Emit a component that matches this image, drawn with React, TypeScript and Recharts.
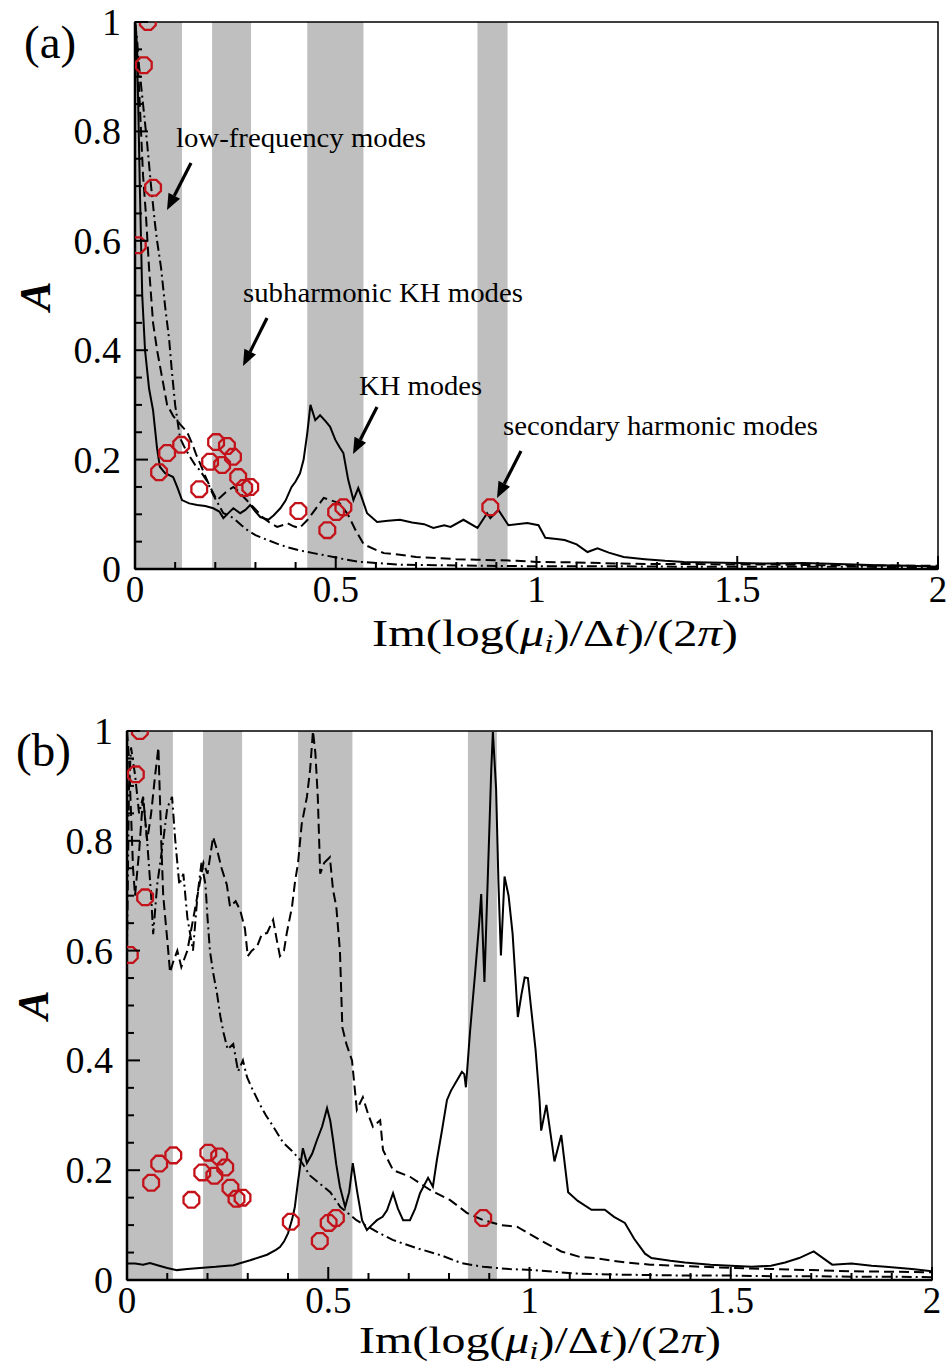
import React from 'react'
import { ComposedChart, Line, Scatter, XAxis, YAxis, ReferenceArea } from 'recharts'

const SERIF = '"Liberation Serif", "Times New Roman", serif'

const xTicks = [0, 0.1, 0.2, 0.3, 0.4, 0.5, 0.6, 0.7, 0.8, 0.9, 1, 1.1, 1.2, 1.3, 1.4, 1.5, 1.6, 1.7, 1.8, 1.9, 2]
const yTicks = [0, 0.05, 0.1, 0.15, 0.2, 0.25, 0.3, 0.35, 0.4, 0.45, 0.5, 0.55, 0.6, 0.65, 0.7, 0.75, 0.8, 0.85, 0.9, 0.95, 1]

// shaded frequency bands [from, to]
const bandsA = [[0, 0.117], [0.192, 0.289], [0.429, 0.569], [0.853, 0.928]]
const bandsB = [[0, 0.114], [0.189, 0.286], [0.425, 0.56], [0.847, 0.919]]

// selected modes (red octagons), same in both panels
const modeX = [0.032, 0.022, 0.045, 0.007, 0.06, 0.08, 0.115, 0.16, 0.202, 0.187, 0.229, 0.217, 0.244, 0.257, 0.272, 0.287, 0.407, 0.479, 0.501, 0.519, 0.885]
const modeY = [1.0, 0.921, 0.697, 0.592, 0.177, 0.212, 0.227, 0.146, 0.232, 0.196, 0.225, 0.19, 0.205, 0.168, 0.148, 0.15, 0.106, 0.071, 0.104, 0.113, 0.113]

// panel (a)
const solidAX = [0, 0.003, 0.008, 0.012, 0.018, 0.025, 0.035, 0.045, 0.055, 0.062, 0.075, 0.095, 0.105, 0.117, 0.135, 0.155, 0.175, 0.195, 0.21, 0.22, 0.235, 0.245, 0.262, 0.275, 0.287, 0.3, 0.312, 0.332, 0.345, 0.362, 0.375, 0.39, 0.4, 0.411, 0.42, 0.429, 0.437, 0.449, 0.461, 0.475, 0.486, 0.499, 0.51, 0.519, 0.531, 0.544, 0.556, 0.565, 0.578, 0.603, 0.63, 0.66, 0.69, 0.72, 0.743, 0.77, 0.786, 0.818, 0.853, 0.877, 0.885, 0.905, 0.93, 0.977, 1.005, 1.022, 1.05, 1.07, 1.1, 1.127, 1.152, 1.18, 1.217, 1.27, 1.32, 1.367, 1.43, 1.5, 1.58, 1.666, 1.75, 1.85, 1.93, 2.0]
const solidAY = [1.0, 0.98, 0.85, 0.7, 0.5, 0.4, 0.33, 0.29, 0.22, 0.187, 0.175, 0.168, 0.15, 0.126, 0.12, 0.117, 0.115, 0.111, 0.105, 0.093, 0.104, 0.111, 0.102, 0.108, 0.117, 0.105, 0.095, 0.09, 0.098, 0.111, 0.125, 0.15, 0.16, 0.175, 0.2, 0.248, 0.3, 0.272, 0.281, 0.27, 0.26, 0.236, 0.222, 0.212, 0.163, 0.126, 0.148, 0.13, 0.102, 0.086, 0.088, 0.09, 0.085, 0.082, 0.075, 0.08, 0.077, 0.09, 0.075, 0.102, 0.093, 0.108, 0.08, 0.084, 0.08, 0.057, 0.055, 0.053, 0.045, 0.031, 0.038, 0.03, 0.022, 0.018, 0.015, 0.013, 0.012, 0.011, 0.01, 0.011, 0.009, 0.007, 0.006, 0.004]

const dashedAX = [0, 0.005, 0.01, 0.015, 0.02, 0.027, 0.035, 0.045, 0.055, 0.065, 0.08, 0.095, 0.112, 0.13, 0.142, 0.152, 0.162, 0.175, 0.187, 0.204, 0.214, 0.224, 0.235, 0.245, 0.258, 0.27, 0.283, 0.295, 0.308, 0.32, 0.335, 0.354, 0.367, 0.379, 0.395, 0.41, 0.43, 0.45, 0.47, 0.49, 0.51, 0.53, 0.55, 0.57, 0.6, 0.62, 0.66, 0.7, 0.75, 0.8, 0.85, 0.9, 0.95, 1.0, 1.1, 1.2, 1.3, 1.4, 1.5, 1.6, 1.7, 1.8, 1.9, 2.0]
const dashedAY = [1.0, 0.95, 0.88, 0.8, 0.72, 0.65, 0.55, 0.45, 0.4, 0.36, 0.3, 0.28, 0.265, 0.25, 0.23, 0.21, 0.193, 0.17, 0.15, 0.126, 0.132, 0.139, 0.145, 0.15, 0.142, 0.132, 0.122, 0.113, 0.103, 0.093, 0.085, 0.077, 0.08, 0.084, 0.078, 0.075, 0.09, 0.11, 0.13, 0.125, 0.12, 0.1, 0.07, 0.045, 0.035, 0.029, 0.026, 0.022, 0.02, 0.018, 0.017, 0.016, 0.015, 0.013, 0.012, 0.01, 0.009, 0.009, 0.008, 0.008, 0.007, 0.007, 0.006, 0.006]

const dashDotAX = [0, 0.005, 0.01, 0.02, 0.03, 0.04, 0.05, 0.055, 0.065, 0.075, 0.085, 0.092, 0.1, 0.112, 0.125, 0.137, 0.15, 0.162, 0.18, 0.195, 0.21, 0.22, 0.235, 0.25, 0.265, 0.28, 0.3, 0.33, 0.355, 0.379, 0.41, 0.444, 0.48, 0.52, 0.56, 0.6, 0.66, 0.75, 0.85, 1.0, 1.2, 1.4, 1.6, 1.8, 2.0]
const dashDotAY = [1.0, 0.97, 0.92, 0.85, 0.78, 0.7, 0.63, 0.6, 0.55, 0.48, 0.42, 0.36, 0.3, 0.24, 0.22, 0.205, 0.19, 0.18, 0.16, 0.135, 0.115, 0.102, 0.098, 0.09, 0.08, 0.071, 0.062, 0.053, 0.046, 0.04, 0.034, 0.029, 0.024, 0.018, 0.013, 0.011, 0.008, 0.007, 0.006, 0.005, 0.005, 0.004, 0.004, 0.004, 0.003]

// panel (b)
const solidBX = [0, 0.02, 0.04, 0.057, 0.08, 0.1, 0.124, 0.15, 0.181, 0.22, 0.264, 0.306, 0.348, 0.37, 0.38, 0.39, 0.4, 0.41, 0.417, 0.425, 0.43, 0.437, 0.447, 0.46, 0.472, 0.485, 0.497, 0.505, 0.512, 0.52, 0.529, 0.542, 0.552, 0.561, 0.572, 0.584, 0.596, 0.608, 0.621, 0.635, 0.646, 0.661, 0.673, 0.686, 0.703, 0.716, 0.728, 0.748, 0.76, 0.77, 0.782, 0.795, 0.805, 0.82, 0.832, 0.838, 0.842, 0.852, 0.865, 0.875, 0.88, 0.888, 0.9, 0.905, 0.909, 0.917, 0.923, 0.929, 0.938, 0.948, 0.958, 0.965, 0.971, 0.98, 0.988, 0.996, 1.004, 1.015, 1.025, 1.029, 1.042, 1.062, 1.079, 1.096, 1.12, 1.154, 1.187, 1.21, 1.237, 1.26, 1.287, 1.303, 1.35, 1.386, 1.45, 1.5, 1.552, 1.6, 1.635, 1.67, 1.706, 1.752, 1.8, 1.85, 1.885, 1.95, 2.0]
const solidBY = [0.03, 0.03, 0.028, 0.031, 0.026, 0.022, 0.018, 0.02, 0.022, 0.024, 0.027, 0.036, 0.046, 0.055, 0.06, 0.07, 0.085, 0.11, 0.133, 0.18, 0.206, 0.24, 0.213, 0.23, 0.255, 0.28, 0.313, 0.29, 0.255, 0.21, 0.17, 0.133, 0.16, 0.213, 0.16, 0.109, 0.091, 0.1, 0.109, 0.115, 0.127, 0.158, 0.13, 0.109, 0.109, 0.13, 0.158, 0.186, 0.17, 0.219, 0.27, 0.328, 0.345, 0.364, 0.379, 0.375, 0.351, 0.45, 0.56, 0.65, 0.703, 0.543, 0.815, 0.93, 0.998, 0.895, 0.72, 0.591, 0.735, 0.7, 0.631, 0.55, 0.479, 0.52, 0.551, 0.55, 0.495, 0.42, 0.327, 0.272, 0.319, 0.216, 0.264, 0.16, 0.144, 0.128, 0.128, 0.115, 0.104, 0.075, 0.048, 0.04, 0.035, 0.032, 0.028, 0.026, 0.024, 0.026, 0.032, 0.04, 0.052, 0.028, 0.03, 0.026, 0.024, 0.02, 0.016]

const dashedBX = [0, 0.005, 0.01, 0.015, 0.02, 0.03, 0.04, 0.05, 0.06, 0.07, 0.078, 0.085, 0.09, 0.1, 0.107, 0.115, 0.125, 0.135, 0.15, 0.165, 0.18, 0.19, 0.2, 0.214, 0.225, 0.235, 0.248, 0.256, 0.27, 0.281, 0.293, 0.3, 0.31, 0.323, 0.335, 0.348, 0.363, 0.372, 0.38, 0.39, 0.397, 0.41, 0.417, 0.425, 0.434, 0.447, 0.455, 0.462, 0.468, 0.474, 0.48, 0.49, 0.504, 0.512, 0.52, 0.529, 0.535, 0.545, 0.559, 0.571, 0.586, 0.6, 0.611, 0.629, 0.636, 0.661, 0.703, 0.753, 0.802, 0.845, 0.885, 0.93, 0.969, 1.026, 1.079, 1.125, 1.162, 1.237, 1.3, 1.4, 1.5, 1.6, 1.7, 1.8, 1.9, 2.0]
const dashedBY = [1.0, 0.95, 0.85, 0.75, 0.7, 0.78, 0.88, 0.8, 0.85, 0.92, 0.97, 0.8, 0.7, 0.62, 0.56, 0.58, 0.6, 0.57, 0.6, 0.66, 0.72, 0.76, 0.74, 0.807, 0.78, 0.75, 0.72, 0.68, 0.69, 0.674, 0.64, 0.59, 0.6, 0.607, 0.63, 0.632, 0.656, 0.62, 0.59, 0.6, 0.632, 0.68, 0.723, 0.76, 0.83, 0.88, 0.93, 1.0, 0.96, 0.88, 0.74, 0.76, 0.77, 0.71, 0.68, 0.6, 0.46, 0.43, 0.4, 0.31, 0.333, 0.3, 0.279, 0.291, 0.237, 0.2, 0.188, 0.164, 0.146, 0.122, 0.109, 0.1, 0.097, 0.073, 0.052, 0.042, 0.04, 0.032, 0.028, 0.025, 0.022, 0.02, 0.018, 0.016, 0.015, 0.014]

const dashDotBX = [0, 0.005, 0.01, 0.02, 0.03, 0.04, 0.05, 0.06, 0.065, 0.075, 0.09, 0.1, 0.112, 0.12, 0.13, 0.14, 0.15, 0.164, 0.175, 0.185, 0.195, 0.2, 0.206, 0.214, 0.224, 0.232, 0.24, 0.25, 0.264, 0.276, 0.288, 0.298, 0.31, 0.33, 0.345, 0.363, 0.388, 0.41, 0.43, 0.455, 0.48, 0.505, 0.53, 0.57, 0.62, 0.66, 0.72, 0.78, 0.83, 0.885, 0.95, 1.01, 1.11, 1.2, 1.3, 1.4, 1.5, 1.6, 1.7, 1.8, 1.9, 2.0]
const dashDotBY = [0.6, 0.9, 0.97, 0.92, 0.85, 0.88, 0.8, 0.7, 0.63, 0.72, 0.8, 0.86, 0.88, 0.8, 0.72, 0.74, 0.66, 0.6, 0.7, 0.76, 0.72, 0.66, 0.6, 0.56, 0.52, 0.48, 0.45, 0.42, 0.43, 0.38, 0.4, 0.37, 0.35, 0.32, 0.3, 0.28, 0.25, 0.235, 0.219, 0.19, 0.175, 0.16, 0.133, 0.109, 0.088, 0.073, 0.058, 0.045, 0.031, 0.024, 0.02, 0.018, 0.012, 0.01, 0.009, 0.008, 0.008, 0.007, 0.007, 0.006, 0.006, 0.005]

const pts = (xs: number[], ys: number[]) => xs.map((x, i) => ({ x, y: ys[i] }))
const modes = pts(modeX, modeY)

const XTick = ({ x, y, payload }: any) => {
  const v = payload.value
  const major = Math.abs(v * 2 - Math.round(v * 2)) < 1e-6
  return (
    <g>
      <line x1={x} y1={y} x2={x} y2={y - (major ? 13 : 7)} stroke="#000" strokeWidth={2} />
      {major && (
        <text x={x} y={y + 33} textAnchor="middle" fontSize={37} fontFamily={SERIF} fill="#000">
          {String(v)}
        </text>
      )}
    </g>
  )
}

const YTick = ({ x, y, payload }: any) => {
  const v = payload.value
  const major = Math.abs(v * 5 - Math.round(v * 5)) < 1e-6
  return (
    <g>
      <line x1={x} y1={y} x2={x + (major ? 13 : 7)} y2={y} stroke="#000" strokeWidth={2} />
      {major && (
        <text x={x - 14} y={y + 13} textAnchor="end" fontSize={38} fontFamily={SERIF} fill="#000">
          {String(v)}
        </text>
      )}
    </g>
  )
}

const Octagon = ({ cx, cy }: any) => {
  const r = 8.5
  const p = [0, 1, 2, 3, 4, 5, 6, 7]
    .map(k => {
      const a = ((k * 45 + 22.5) * Math.PI) / 180
      return `${cx + r * Math.cos(a)},${cy + r * Math.sin(a)}`
    })
    .join(' ')
  return <polygon points={p} fill="none" stroke="#c4121a" strokeWidth={2.3} />
}

const Panel = ({ height, margin, yWidth, bands, solid, dashed, dashDot }: any) => (
  <ComposedChart width={947} height={height} margin={margin}>
    {bands.map((b: number[], i: number) => (
      <ReferenceArea key={i} x1={b[0]} x2={b[1]} y1={0} y2={1} fill="#bfbfbf" fillOpacity={1} stroke="none" />
    ))}
    <XAxis
      type="number"
      dataKey="x"
      domain={[0, 2]}
      ticks={xTicks}
      interval={0}
      allowDataOverflow
      height={50}
      tickSize={0}
      tickMargin={0}
      tick={<XTick />}
      axisLine={{ stroke: '#000', strokeWidth: 2.5 }}
    />
    <YAxis
      type="number"
      dataKey="y"
      domain={[0, 1]}
      ticks={yTicks}
      interval={0}
      allowDataOverflow
      width={yWidth}
      tickSize={0}
      tickMargin={0}
      tick={<YTick />}
      axisLine={{ stroke: '#000', strokeWidth: 2.5 }}
    />
    <Line data={dashDot} dataKey="y" type="linear" dot={false} stroke="#000" strokeWidth={2} strokeDasharray="10 4 2 4" isAnimationActive={false} />
    <Line data={dashed} dataKey="y" type="linear" dot={false} stroke="#000" strokeWidth={2} strokeDasharray="10 5" isAnimationActive={false} />
    <Line data={solid} dataKey="y" type="linear" dot={false} stroke="#000" strokeWidth={2} isAnimationActive={false} />
    <Scatter data={modes} dataKey="y" shape={Octagon} isAnimationActive={false} />
    <ReferenceArea x1={0} x2={2} y1={0} y2={1} fill="none" fillOpacity={0} stroke="#000" strokeWidth={1.5} />
  </ComposedChart>
)

const Arrow = ({ x1, y1, x2, y2 }: any) => {
  const a = Math.atan2(y2 - y1, x2 - x1)
  const L = 16
  const W = 6.5
  const bx = x2 - L * Math.cos(a)
  const by = y2 - L * Math.sin(a)
  const head = `${x2},${y2} ${bx + W * Math.sin(a)},${by - W * Math.cos(a)} ${bx - W * Math.sin(a)},${by + W * Math.cos(a)}`
  return (
    <g>
      <line x1={x1} y1={y1} x2={bx} y2={by} stroke="#000" strokeWidth={3.2} />
      <polygon points={head} fill="#000" />
    </g>
  )
}

const notes = [
  { text: 'low-frequency modes', x: 176, y: 147, len: 250, arrow: [191, 163, 167, 210] },
  { text: 'subharmonic KH modes', x: 243, y: 302, len: 280, arrow: [267, 318, 243, 366] },
  { text: 'KH modes', x: 359, y: 395, len: 123, arrow: [377, 407, 353, 454] },
  { text: 'secondary harmonic modes', x: 503, y: 435, len: 315, arrow: [521, 451, 497, 498] },
]

const XTitle = ({ x, y, len }: any) => (
  <text x={x} y={y} fontSize={38} fontFamily={SERIF} fill="#000" textLength={len} lengthAdjust="spacingAndGlyphs">
    Im(log(<tspan fontStyle="italic">μ</tspan>
    <tspan fontStyle="italic" fontSize={26} dy={6}>i</tspan>
    <tspan dy={-6}>)/Δ</tspan>
    <tspan fontStyle="italic">t</tspan>)/(2<tspan fontStyle="italic">π</tspan>)
  </text>
)

export default function App() {
  return (
    <div style={{ position: 'absolute', left: 0, top: 0, width: 947, height: 1367, background: '#fff' }}>
      <div style={{ position: 'absolute', left: 0, top: 0 }}>
        <Panel
          height={680}
          margin={{ top: 22, right: 9, bottom: 61, left: 0 }}
          yWidth={135}
          bands={bandsA}
          solid={pts(solidAX, solidAY)}
          dashed={pts(dashedAX, dashedAY)}
          dashDot={pts(dashDotAX, dashDotAY)}
        />
      </div>
      <div style={{ position: 'absolute', left: 0, top: 680 }}>
        <Panel
          height={687}
          margin={{ top: 51, right: 15, bottom: 37, left: 0 }}
          yWidth={127}
          bands={bandsB}
          solid={pts(solidBX, solidBY)}
          dashed={pts(dashedBX, dashedBY)}
          dashDot={pts(dashDotBX, dashDotBY)}
        />
      </div>
      <svg width={947} height={1367} style={{ position: 'absolute', left: 0, top: 0, pointerEvents: 'none' }}>
        <text x={24} y={58} fontSize={47} fontFamily={SERIF} fill="#000">(a)</text>
        <text x={16} y={766} fontSize={47} fontFamily={SERIF} fill="#000">(b)</text>
        <text x={50} y={296} transform="rotate(-90 50 296)" textAnchor="middle" fontSize={44} fontStyle="italic" fontWeight="bold" fontFamily={SERIF} fill="#000">A</text>
        <text x={48} y={1005} transform="rotate(-90 48 1005)" textAnchor="middle" fontSize={44} fontStyle="italic" fontWeight="bold" fontFamily={SERIF} fill="#000">A</text>
        <XTitle x={372} y={646} len={366} />
        <XTitle x={359} y={1353} len={362} />
        {notes.map(n => (
          <g key={n.text}>
            <text x={n.x} y={n.y} fontSize={28} fontFamily={SERIF} fill="#000" textLength={n.len} lengthAdjust="spacingAndGlyphs">
              {n.text}
            </text>
            <Arrow x1={n.arrow[0]} y1={n.arrow[1]} x2={n.arrow[2]} y2={n.arrow[3]} />
          </g>
        ))}
      </svg>
    </div>
  )
}
